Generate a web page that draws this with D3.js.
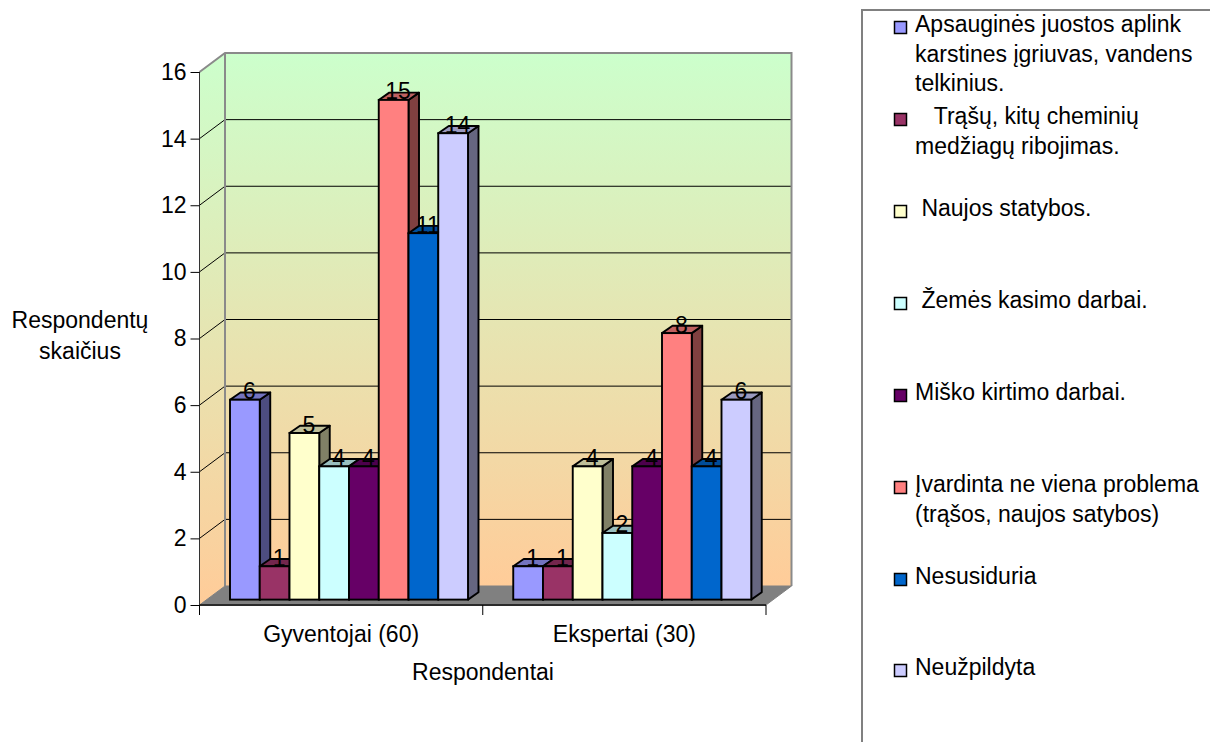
<!DOCTYPE html>
<html>
<head>
<meta charset="utf-8">
<script src="https://cdn.jsdelivr.net/npm/d3@7/dist/d3.min.js"></script>
<style>
html,body{margin:0;padding:0;background:#fff;overflow:hidden}
svg{display:block}
text{font-family:"Liberation Sans",Arial,sans-serif;font-size:23px;fill:#000;white-space:pre}
</style>
</head>
<body>
<svg id="c" width="1210" height="742"></svg>
<script>
const categories = ["Gyventojai (60)", "Ekspertai (30)"];
const seriesNames = ["s1","s2","s3","s4","s5","s6","s7","s8"];
const gyventojai = [6, 1, 5, 4, 4, 15, 11, 14];
const ekspertai = [1, 1, 4, 2, 4, 8, 4, 6];
const colors = ["#9999FF","#993366","#FFFFCC","#CCFFFF","#660066","#FF8080","#0066CC","#CCCCFF"];
const yTicks = [0,2,4,6,8,10,12,14,16];
const legendLines = [
  ["Apsauginės juostos aplink","karstines įgriuvas, vandens","telkinius."],
  ["   Trąšų, kitų cheminių","medžiagų ribojimas."],
  [" Naujos statybos."],
  [" Žemės kasimo darbai."],
  ["Miško kirtimo darbai."],
  ["Įvardinta ne viena problema","(trąšos, naujos satybos)"],
  ["Nesusiduria"],
  ["Neužpildyta"]
];
const legendBaselines = [32,124,216,308,400,492,584,675];
const yTitleLines = ["Respondentų","skaičius"];
const xTitle = "Respondentai";

const svg = d3.select("#c");
const DX = 25.5, DY = 19;          // depth of the floor
const BDX = 10.5, BDY = 7.3;       // depth of a bar
const OX = 7.5, OY = 5.4;          // bar offset from the front plane
const BAR_STROKE = 1.9;

const y = d3.scaleLinear().domain([0,16]).range([605,72]);
const x = d3.scaleBand().domain(categories).range([199.5,766]);
const xs = d3.scaleBand().domain(seriesNames).range([23,261]);
const values = [gyventojai, ekspertai];

const defs = svg.append("defs");
const grad = defs.append("linearGradient").attr("id","wall").attr("x1",0).attr("y1",0).attr("x2",0).attr("y2",1);
grad.append("stop").attr("offset","0%").attr("stop-color","#CCFFCC");
grad.append("stop").attr("offset","100%").attr("stop-color","#FFCC99");

const [xL, xR] = x.range();
const line = d3.line();

// left wall
svg.append("path")
  .attr("d", line([[xL,y(0)],[xL,y(16)],[xL+DX,y(16)-DY],[xL+DX,y(0)-DY]])+"Z")
  .attr("fill","url(#wall)").attr("stroke","none");
// back wall
svg.append("rect")
  .attr("x",xL+DX).attr("y",y(16)-DY)
  .attr("width",xR-xL).attr("height",y(0)-y(16))
  .attr("fill","url(#wall)");

// gridlines
const grid = svg.append("g").attr("stroke","#000").attr("stroke-width",1).attr("fill","none");
yTicks.filter(t=>t>0&&t<16).forEach(t=>{
  grid.append("path").attr("d", line([[xL,y(t)],[xL+DX,y(t)-DY],[xR+DX,y(t)-DY]]));
});

// wall borders
svg.append("path")
  .attr("d", line([[xL,y(16)],[xL+DX,y(16)-DY],[xR+DX,y(16)-DY],[xR+DX,y(0)-DY]]))
  .attr("fill","none").attr("stroke","#8a8a8a").attr("stroke-width",2);
svg.append("path")
  .attr("d", line([[xL+DX,y(16)-DY],[xL+DX,y(0)-DY]]))
  .attr("fill","none").attr("stroke","#8a8a8a").attr("stroke-width",2);

// floor
svg.append("path")
  .attr("d", line([[xL,y(0)],[xL+DX,y(0)-DY],[xR+DX,y(0)-DY],[xR,y(0)]])+"Z")
  .attr("fill","#808080").attr("stroke","#808080").attr("stroke-width",1);

// bars
function shade(c,k){ const r=d3.rgb(c); return d3.rgb(r.r*k,r.g*k,r.b*k).formatHex(); }
const labels = [];
categories.forEach((cat,ci)=>{
  const g = svg.append("g");
  seriesNames.forEach((s,i)=>{
    const v = values[ci][i];
    const x0 = x(cat)+xs(s)+OX, x1 = x0+xs.bandwidth();
    const yb = y(0)-OY, yt = y(v)-OY;
    g.append("path").attr("d", line([[x1,yb],[x1+BDX,yb-BDY],[x1+BDX,yt-BDY],[x1,yt]])+"Z")
      .attr("fill",shade(colors[i],0.5)).attr("stroke","#000").attr("stroke-width",BAR_STROKE).attr("stroke-linejoin","round");
    g.append("path").attr("d", line([[x0,yt],[x0+BDX,yt-BDY],[x1+BDX,yt-BDY],[x1,yt]])+"Z")
      .attr("fill",shade(colors[i],0.75)).attr("stroke","#000").attr("stroke-width",BAR_STROKE).attr("stroke-linejoin","round");
    g.append("rect").attr("x",x0).attr("y",yt).attr("width",x1-x0).attr("height",yb-yt)
      .attr("fill",colors[i]).attr("stroke","#000").attr("stroke-width",BAR_STROKE);
    labels.push({v, x:(x0+x1)/2+4.5, y:yt-0.5});
  });
});

// front axis edges
svg.append("path").attr("d", line([[xL,y(16)],[xL,y(0)]])).attr("stroke","#333").attr("stroke-width",1).attr("fill","none");
svg.append("path").attr("d", line([[xL,y(0)],[xR,y(0)]])).attr("stroke","#2a2a2a").attr("stroke-width",2).attr("fill","none");

// y axis
const yAxis = d3.axisLeft(y).tickValues(yTicks).tickSize(9).tickSizeOuter(0).tickPadding(4);
const gy = svg.append("g").attr("transform",`translate(${xL},0)`).call(yAxis);
gy.select(".domain").remove();
gy.selectAll("text").style("font-size","23px").attr("fill","#000");
gy.selectAll("line").attr("stroke","#000");

// x axis
const xAxis = d3.axisBottom(x).tickSize(0).tickPadding(21);
const gx = svg.append("g").attr("transform",`translate(0,${y(0)})`).call(xAxis);
gx.select(".domain").remove();
gx.selectAll("text").style("font-size","23px").attr("fill","#000");
[xL, x(categories[1]), xR].forEach(px=>{
  svg.append("line").attr("x1",px).attr("x2",px).attr("y1",y(0)).attr("y2",y(0)+10).attr("stroke","#000");
});

// data labels
svg.append("g").selectAll("text").data(labels).join("text")
  .attr("x",d=>d.x).attr("y",d=>d.y).attr("text-anchor","middle").text(d=>d.v);

// axis titles
svg.append("g").selectAll("text").data(yTitleLines).join("text")
  .attr("x",80).attr("y",(d,i)=>328+i*31).attr("text-anchor","middle").text(d=>d);
svg.append("text").attr("x",483).attr("y",680).attr("text-anchor","middle").text(xTitle);

// legend
svg.append("path").attr("d", line([[1215,10],[862,10],[862,747]]))
  .attr("fill","none").attr("stroke","#808080").attr("stroke-width",2);
legendLines.forEach((lines,i)=>{
  const b = legendBaselines[i];
  svg.append("rect").attr("x",894.5).attr("y",b-10.5).attr("width",12).attr("height",12)
    .attr("fill",colors[i]).attr("stroke","#000").attr("stroke-width",1.5);
  svg.append("g").selectAll("text").data(lines).join("text")
    .attr("x",915).attr("y",(d,j)=>b+j*29.7).text(d=>d);
});
</script>
</body>
</html>
